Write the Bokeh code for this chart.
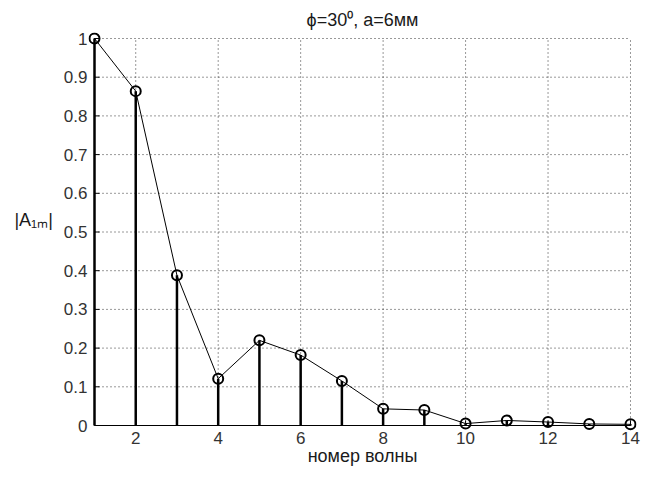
from bokeh.plotting import figure
from bokeh.models import FixedTicker, Range1d, ColumnDataSource
from bokeh.embed import file_html
from bokeh.resources import INLINE

# Data
wave_number = [1, 2, 3, 4, 5, 6, 7, 8, 9, 10, 11, 12, 13, 14]
amplitude = [1.0, 0.864, 0.388, 0.121, 0.220, 0.182, 0.115, 0.043, 0.040, 0.005, 0.013, 0.009, 0.004, 0.003]
zeros = [0] * len(wave_number)

x_ticks = [2, 4, 6, 8, 10, 12, 14]
y_ticks = [0, 0.1, 0.2, 0.3, 0.4, 0.5, 0.6, 0.7, 0.8, 0.9, 1]
y_tick_labels = ["0", "0.1", "0.2", "0.3", "0.4", "0.5", "0.6", "0.7", "0.8", "0.9", "1"]
x_lim = [1, 14]
y_lim = [0, 1]

title_text = "\u03d5=30\u2070, a=6мм"
x_label = "номер волны"
y_label = "|A\u2081\u2098|\n "

FONT = "Liberation Sans"
TXT = "#1a1a1a"
FS_TICK = "17px"
FS_TEXT = "18px"

# frame geometry (pixels) - data area plus a small margin so edge markers are not clipped
PAD = 6
PX_X = 41.23   # px per x unit
PX_Y = 387.0   # px per y unit
xpad = PAD / PX_X
ypad = PAD / PX_Y

src = ColumnDataSource(dict(x=wave_number, y=amplitude, y0=zeros))

p = figure(width=646, height=477, output_backend="svg", toolbar_location=None,
           x_range=Range1d(x_lim[0] - xpad, x_lim[1] + xpad),
           y_range=Range1d(y_lim[0] - ypad, y_lim[1] + ypad),
           min_border_left=94 - PAD, min_border_right=16 - PAD,
           min_border_top=38 - PAD, min_border_bottom=52 - PAD)
p.outline_line_color = None
p.background_fill_color = "white"
p.border_fill_color = "white"
p.xgrid.visible = False
p.ygrid.visible = False

p.title.text = title_text
p.title.align = "center"
p.title.text_font = FONT
p.title.text_font_style = "normal"
p.title.text_font_size = FS_TEXT
p.title.text_color = TXT
p.title.offset = 0
p.title.standoff = 5

# axes: only labels from bokeh axes; lines drawn at the data limits
p.xaxis.ticker = FixedTicker(ticks=x_ticks)
p.yaxis.ticker = FixedTicker(ticks=y_ticks)
p.yaxis.major_label_overrides = {v: s for v, s in zip(y_ticks, y_tick_labels)}
for ax in (p.xaxis, p.yaxis):
    ax.axis_line_color = None
    ax.major_tick_line_color = None
    ax.minor_tick_line_color = None
    ax.major_tick_in = 0
    ax.major_tick_out = 0
    ax.major_label_text_font = FONT
    ax.major_label_text_font_size = FS_TICK
    ax.major_label_text_color = "#333333"
p.yaxis.major_label_standoff = 1
p.xaxis.major_label_standoff = 0
p.xaxis.axis_label = x_label
p.xaxis.axis_label_text_font = FONT
p.xaxis.axis_label_text_font_style = "normal"
p.xaxis.axis_label_text_font_size = FS_TEXT
p.xaxis.axis_label_text_color = TXT
p.xaxis.axis_label_standoff = -1
p.yaxis.axis_label = y_label
p.yaxis.axis_label_orientation = "horizontal"
p.yaxis.axis_label_text_font = FONT
p.yaxis.axis_label_text_font_style = "normal"
p.yaxis.axis_label_text_font_size = FS_TEXT
p.yaxis.axis_label_text_color = TXT
p.yaxis.axis_label_standoff = 8

# dotted grid bounded by the data limits
gx = [t for t in x_ticks if t != x_lim[0]]
gy = [t for t in y_ticks if t != y_lim[0]]
p.segment(x0=gx, y0=[y_lim[0]] * len(gx), x1=gx, y1=[y_lim[1]] * len(gx),
          line_color="#333333", line_dash="1 3", line_width=1)
p.segment(x0=[x_lim[0]] * len(gy), y0=gy, x1=[x_lim[1]] * len(gy), y1=gy,
          line_color="#333333", line_dash="1 3", line_width=1)

# axis lines (left and bottom, box off)
p.segment(x0=[x_lim[0], x_lim[0]], y0=[y_lim[0], y_lim[0]], x1=[x_lim[0], x_lim[1]],
          y1=[y_lim[1], y_lim[0]], line_color="black", line_width=1)
# inward ticks
TK = 5
p.segment(x0=[x_lim[0]] * len(y_ticks), y0=y_ticks, x1=[x_lim[0] + TK / PX_X] * len(y_ticks),
          y1=y_ticks, line_color="black", line_width=1)
p.segment(x0=x_ticks, y0=[y_lim[0]] * len(x_ticks), x1=x_ticks,
          y1=[y_lim[0] + TK / PX_Y] * len(x_ticks), line_color="black", line_width=1)

# stems
p.segment(x0="x", y0="y0", x1="x", y1="y", source=src, line_color="black", line_width=2.5)
# connecting line
p.line(x="x", y="y", source=src, line_color="black", line_width=1)
# markers
p.scatter(x="x", y="y", source=src, marker="circle", size=10, fill_alpha=0,
          line_color="black", line_width=2)

open("out.html", "w").write(file_html(p, INLINE))
